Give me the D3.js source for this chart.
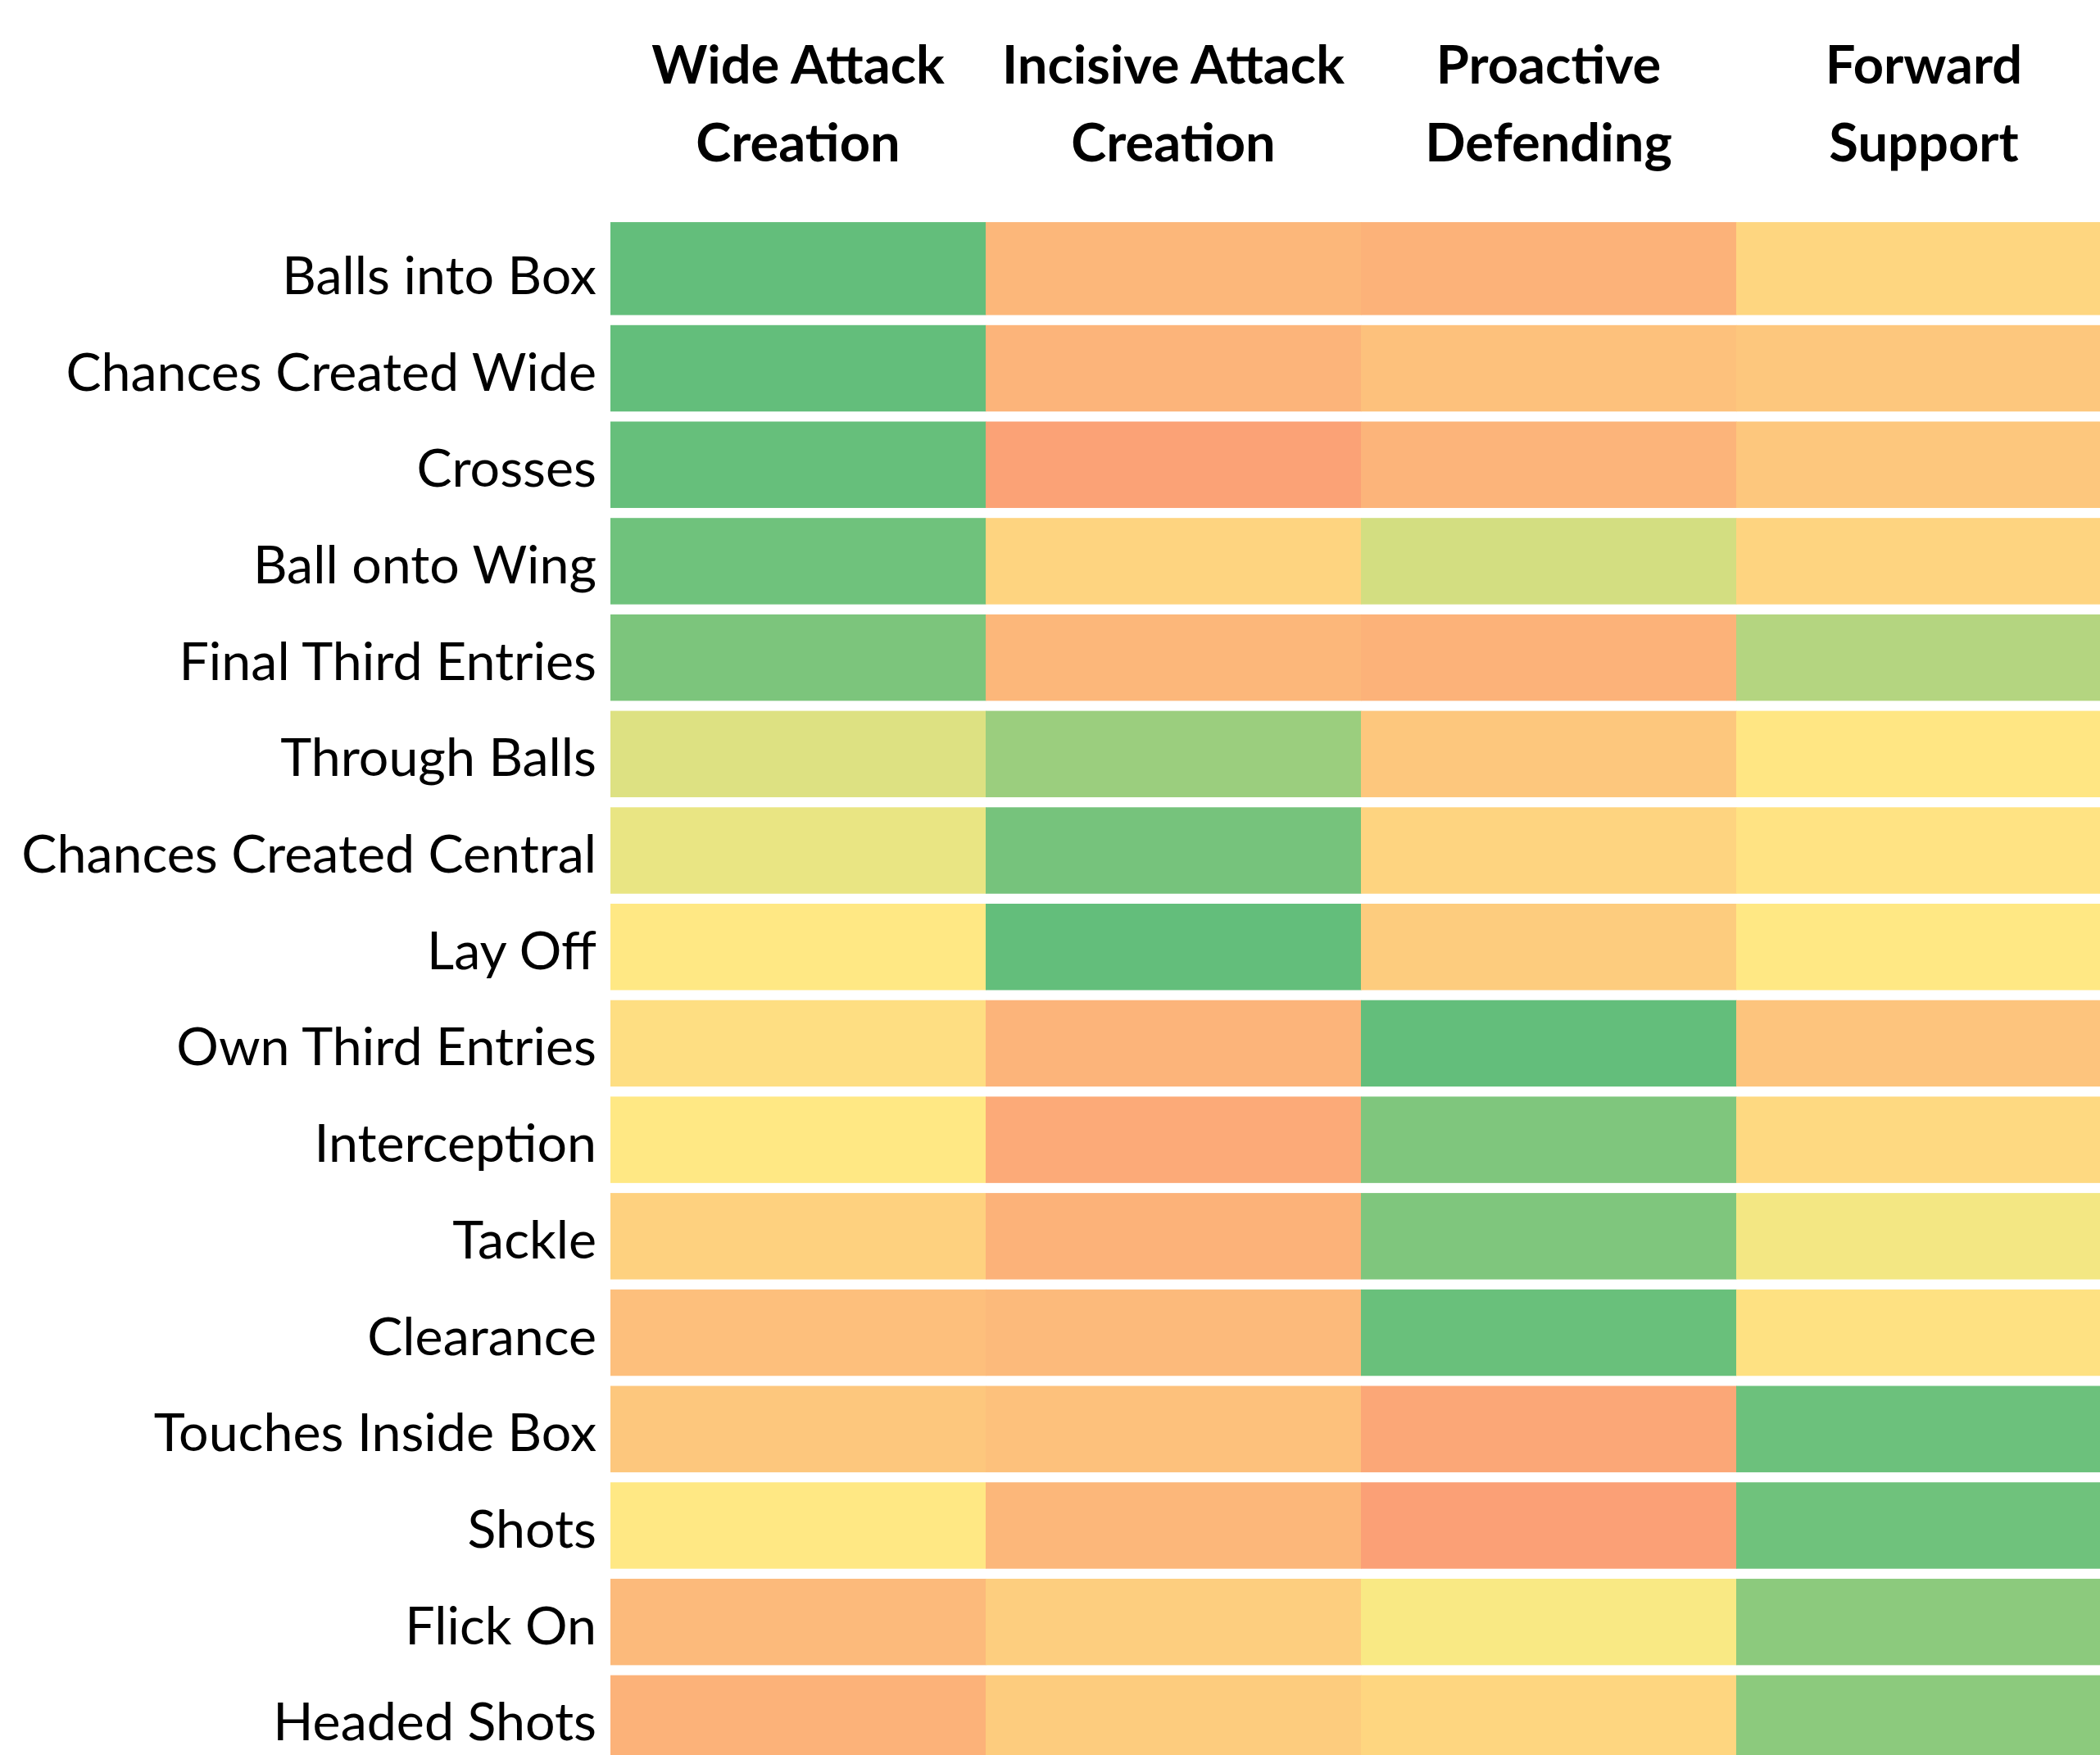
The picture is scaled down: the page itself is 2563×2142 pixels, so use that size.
<!DOCTYPE html>
<html>
<head>
<meta charset="utf-8">
<script src="https://cdn.jsdelivr.net/npm/d3@7"></script>
<style>
  html, body { margin: 0; padding: 0; background: #fff; }
  svg { display: block; }
  .row-label { font-family: Lato, "Noto Sans", sans-serif; font-size: 64.5px; fill: #000; }
  .col-label { font-family: Lato, "Noto Sans", sans-serif; font-size: 65px; font-weight: bold; fill: #000; }
</style>
</head>
<body>
<svg id="chart"></svg>
<script>
// Metrics down the side, player styles across the top
const metrics = [
    "Balls into Box", "Chances Created Wide", "Crosses", "Ball onto Wing",
    "Final Third Entries", "Through Balls", "Chances Created Central", "Lay Off",
    "Own Third Entries", "Interception", "Tackle", "Clearance",
    "Touches Inside Box", "Shots", "Flick On", "Headed Shots"
];

const styles = [
    ["Wide Attack", "Creation"],
    ["Incisive Attack", "Creation"],
    ["Proactive", "Defending"],
    ["Forward", "Support"]
];

// Scores per style (0 = lowest, 50 = middle, 100 = highest), one per metric
const wideAttack  = [100, 100, 99, 96, 92, 61, 57, 49, 45, 49, 40, 33, 36, 49, 31, 28];
const incisive    = [30, 29, 22, 41, 30, 82, 94, 100, 29, 25, 28, 31, 34, 30, 39, 38];
const proactive   = [28, 34, 29, 64, 28, 36, 41, 38, 100, 91, 91, 98, 24, 21, 52, 42];
const forward     = [42, 36, 36, 41, 74, 48, 47, 49, 35, 43, 54, 46, 97, 96, 87, 87];

const seriesValues = [wideAttack, incisive, proactive, forward];

const width = 2563;
const height = 2142;

const svg = d3.select("#chart")
    .attr("width", width)
    .attr("height", height);

const x = d3.scaleBand()
    .domain(d3.range(styles.length))
    .range([745, 2577])
    .paddingInner(0);

// row step of ~117.7px with a ~12px white gap between rows
const rowStep = 117.7;
const rowPad = 0.104;
const y = d3.scaleBand()
    .domain(d3.range(metrics.length))
    .range([279.1, 279.1 + rowStep * (metrics.length - rowPad)])
    .paddingInner(rowPad)
    .paddingOuter(0);

// Excel style red - yellow - green scale
const color = d3.scaleLinear()
    .domain([0, 50, 100])
    .range(["#F8696B", "#FFEB84", "#63BE7B"]);

const cells = [];
seriesValues.forEach((vals, c) => {
    vals.forEach((v, r) => cells.push({ c, r, v }));
});

// first row sits a little higher in the original
const topExtra = 8;

svg.append("g")
    .selectAll("rect")
    .data(cells)
    .enter().append("rect")
    .attr("x", d => x(d.c))
    .attr("y", d => y(d.r) - (d.r === 0 ? topExtra : 0))
    .attr("width", x.bandwidth() + 0.5)
    .attr("height", d => y.bandwidth() + (d.r === 0 ? topExtra : 0))
    .attr("fill", d => color(d.v));

// row labels
svg.append("g")
    .selectAll("text")
    .data(metrics)
    .enter().append("text")
    .attr("class", "row-label")
    .attr("x", 728)
    .attr("y", (d, i) => y(i) + y.bandwidth() / 2 + 27)
    .attr("text-anchor", "end")
    .text(d => d);

// column headers, two lines each
const header = svg.append("g")
    .selectAll("text")
    .data(styles)
    .enter().append("text")
    .attr("class", "col-label")
    .attr("text-anchor", "middle")
    .attr("x", (d, i) => x(i) + x.bandwidth() / 2);

header.selectAll("tspan")
    .data(d => d)
    .enter().append("tspan")
    .attr("x", function() { return d3.select(this.parentNode).attr("x"); })
    .attr("y", (d, i) => 102 + i * 94.5)
    .text(d => d);
</script>
</body>
</html>
